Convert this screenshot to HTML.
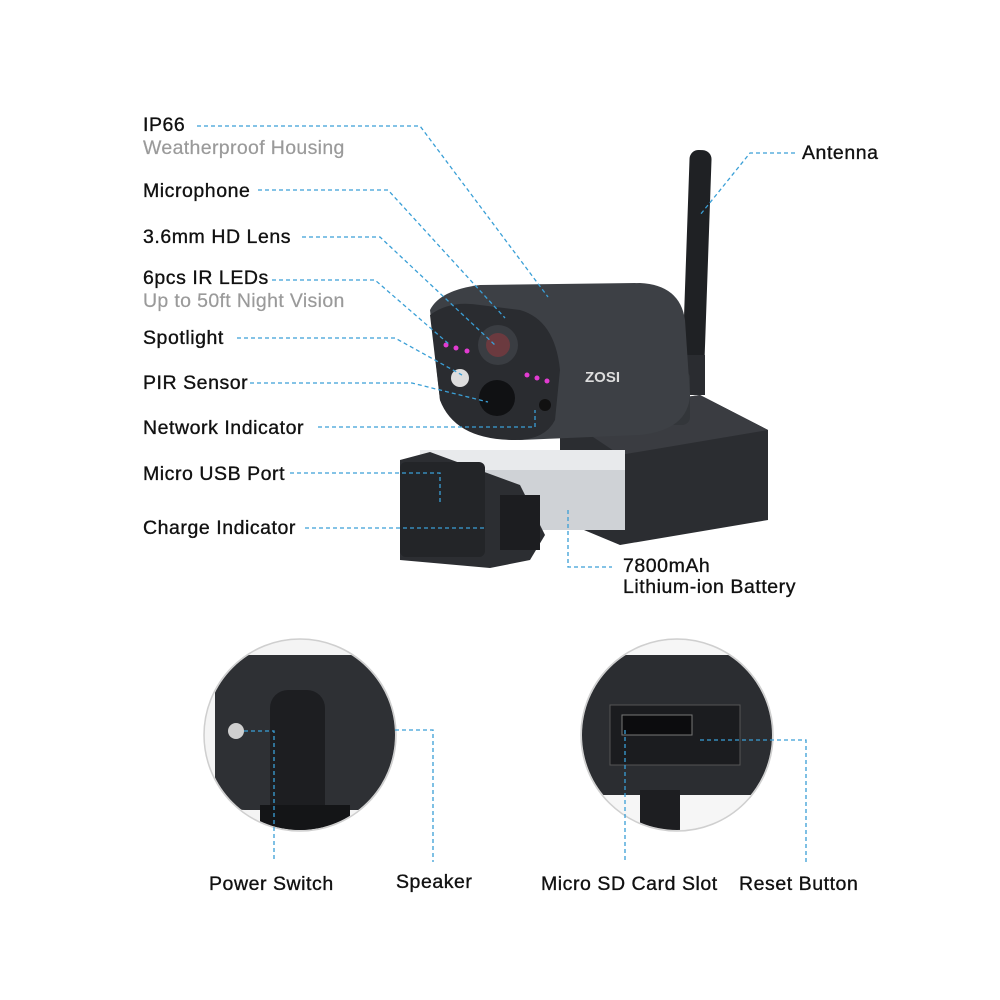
<!DOCTYPE html>
<html><head><meta charset="utf-8"><style>
html,body{margin:0;padding:0;background:#fff;}
svg{display:block}
text{font-family:"Liberation Sans",sans-serif;font-size:19.5px;letter-spacing:0.55px;fill:#111;stroke:#111;stroke-width:0.35px;}
.g{fill:#9a9a9a;stroke:#9a9a9a;stroke-width:0.2px;letter-spacing:0.35px}
.d{stroke:#3a9fd6;stroke-width:1.3;stroke-dasharray:4 3;fill:none}
</style></head><body>
<svg width="1000" height="1000" viewBox="0 0 1000 1000">
<rect x="686" y="150" width="22" height="225" rx="9" fill="#1f2124" transform="rotate(2 697 260)"/>
<rect x="675" y="355" width="30" height="40" fill="#2a2c30"/>
<polygon points="560,415 700,395 768,430 768,520 620,545 560,520" fill="#2b2d31"/>
<polygon points="560,415 700,395 768,430 620,455" fill="#3a3c41"/>
<rect x="420" y="450" width="205" height="80" fill="#cfd2d6"/>
<rect x="420" y="450" width="205" height="20" fill="#e8eaec"/>
<polygon points="400,460 430,452 520,485 545,535 530,560 490,568 400,560" fill="#2c2e32"/>
<rect x="400" y="462" width="85" height="95" rx="6" fill="#232528"/>
<rect x="500" y="495" width="40" height="55" fill="#1c1d20"/>
<rect x="620" y="370" width="70" height="55" rx="8" fill="#33363a"/>
<circle cx="655" cy="375" r="12" fill="#b88a3a"/>
<path d="M430,310 Q440,290 480,285 L640,283 Q680,285 685,320 L690,395 Q688,430 640,435 L520,440 Q455,440 440,400 Z" fill="#3d4045"/>
<path d="M430,315 Q450,300 480,305 L520,310 Q555,320 560,370 L555,420 Q545,440 515,440 Q455,440 440,400 Z" fill="#2a2c30"/>
<circle cx="498" cy="345" r="20" fill="#3a3d42"/><circle cx="498" cy="345" r="12" fill="#6b3a3f"/>
<circle cx="497" cy="398" r="18" fill="#101113"/>
<circle cx="460" cy="378" r="9" fill="#ddd"/>
<circle cx="545" cy="405" r="6" fill="#111"/>
<circle cx="446" cy="345" r="2.5" fill="#e23bd1"/><circle cx="456" cy="348" r="2.5" fill="#e23bd1"/><circle cx="467" cy="351" r="2.5" fill="#e23bd1"/>
<circle cx="527" cy="375" r="2.5" fill="#e23bd1"/><circle cx="537" cy="378" r="2.5" fill="#e23bd1"/><circle cx="547" cy="381" r="2.5" fill="#e23bd1"/>
<text x="585" y="382" style="font-size:15px;font-weight:bold;fill:#ddd;stroke:none;letter-spacing:0">ZOSI</text>
<defs>
<clipPath id="c1"><circle cx="300" cy="735" r="95"/></clipPath>
<clipPath id="c2"><circle cx="677" cy="735" r="95"/></clipPath>
</defs>
<circle cx="300" cy="735" r="96" fill="#eee" stroke="#cfcfcf" stroke-width="1.5"/>
<g clip-path="url(#c1)">
<rect x="200" y="640" width="200" height="200" fill="#f4f4f4"/>
<rect x="215" y="655" width="200" height="155" rx="30" fill="#2e3034"/>
<rect x="270" y="690" width="55" height="150" rx="18" fill="#1d1e21"/>
<circle cx="236" cy="731" r="8" fill="#cfcfcf"/>
<rect x="260" y="805" width="90" height="30" fill="#141517"/>
</g>
<circle cx="677" cy="735" r="96" fill="#eee" stroke="#cfcfcf" stroke-width="1.5"/>
<g clip-path="url(#c2)">
<rect x="580" y="640" width="200" height="200" fill="#f6f6f6"/>
<rect x="580" y="655" width="200" height="140" fill="#2b2d31"/>
<rect x="610" y="705" width="130" height="60" fill="#1b1c1f" stroke="#555"/>
<rect x="622" y="715" width="70" height="20" fill="#0c0c0e" stroke="#777"/>
<rect x="640" y="790" width="40" height="60" fill="#1d1e21"/>
</g>
<text x="143" y="131">IP66</text>
<text x="143" y="154" class="g">Weatherproof Housing</text>
<text x="143" y="197">Microphone</text>
<text x="143" y="243">3.6mm HD Lens</text>
<text x="143" y="284">6pcs IR LEDs</text>
<text x="143" y="307" class="g">Up to 50ft Night Vision</text>
<text x="143" y="344">Spotlight</text>
<text x="143" y="389">PIR Sensor</text>
<text x="143" y="434">Network Indicator</text>
<text x="143" y="480">Micro USB Port</text>
<text x="143" y="534">Charge Indicator</text>
<text x="623" y="572">7800mAh</text>
<text x="623" y="593">Lithium-ion Battery</text>
<text x="802" y="159">Antenna</text>
<text x="209" y="890">Power Switch</text>
<text x="396" y="888">Speaker</text>
<text x="541" y="890">Micro SD Card Slot</text>
<text x="739" y="890">Reset Button</text>
<polyline class="d" points="197,126 420,126 548,297"/>
<polyline class="d" points="258,190 388,190 505,318"/>
<polyline class="d" points="302,237 380,237 495,345"/>
<polyline class="d" points="272,280 375,280 450,345"/>
<polyline class="d" points="237,338 395,338 462,375"/>
<polyline class="d" points="250,383 412,383 488,402"/>
<polyline class="d" points="318,427 535,427 535,410"/>
<polyline class="d" points="290,473 440,473 440,505"/>
<polyline class="d" points="305,528 485,528"/>
<polyline class="d" points="568,510 568,567 612,567"/>
<polyline class="d" points="795,153 750,153 700,215"/>
<polyline class="d" points="244,731 274,731 274,862"/>
<polyline class="d" points="395,730 433,730 433,862"/>
<polyline class="d" points="625,730 625,862"/>
<polyline class="d" points="700,740 806,740 806,862"/>
</svg>
</body></html>
